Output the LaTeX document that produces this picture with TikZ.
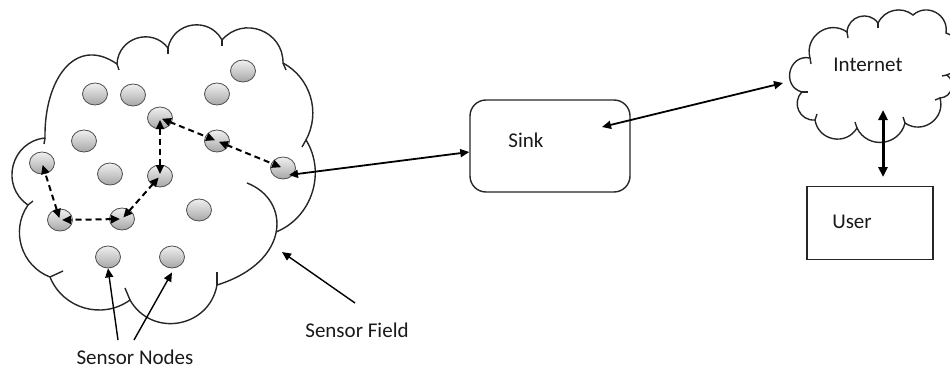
\documentclass[tikz,border=0pt]{standalone}
\usepackage{fontspec}
\setmainfont{Carlito}
\usetikzlibrary{arrows.meta,shapes.geometric}
\begin{document}
\begin{tikzpicture}[x=1pt,y=-1pt,
  outline/.style={line width=1.4pt,black!85},
  lobe/.style={bend left=70,looseness=1.27},
  semi/.style={bend left=88,looseness=1.6},
  flat/.style={bend left=52,looseness=1.05},
  sensor/.style={ellipse,minimum width=25pt,minimum height=22pt,inner sep=0pt,
    top color=gray!12,bottom color=gray!70,middle color=gray!40,
    draw=gray!60!black,line width=0.8pt},
  hop/.style={line width=2pt,dashed,dash pattern=on 6pt off 4pt,
    {Triangle[length=9pt,width=8pt]}-{Triangle[length=9pt,width=8pt]},
    shorten <=2pt,shorten >=2pt},
  link/.style={line width=1.8pt,{Triangle[length=9pt,width=8pt]}-{Triangle[length=9pt,width=8pt]}},
  point/.style={line width=1.4pt,-{Triangle[length=9pt,width=8pt]}},
  lbl/.style={font=\fontsize{21}{24}\selectfont,text=black!90,inner sep=0pt}]
\useasboundingbox (0,0) rectangle (950,369);
\clip (0,0) rectangle (950,369);

% ---- Sensor field cloud ----
\draw[outline] (28,205) to[lobe] (45,138) .. controls (44,80) and (75,35) .. (117,64)
  to[lobe] (168,48) to[lobe] (222,40) to[lobe] (283,63)
  to[bend left=45,looseness=1] (306,140)
  to[bend left=50,looseness=1.02] (276,232);
\draw[outline] (247,183) .. controls (291,200) and (291,262) .. (217,285);
\draw[outline] (217,285) to[lobe] (130,300) to[flat] (50,277) to[flat] (28,205);
% inner ticks
\draw[outline] (117,64) -- (119,70);
\draw[outline] (168,48) -- (168,54);
\draw[outline] (222,40) -- (222,46);
\draw[outline] (283,63) -- (286,70);
\draw[outline] (306,140) -- (302,147);
\draw[outline] (45,138) -- (44,144);
\draw[outline] (217,285) -- (217,272);
\draw[outline] (130,300) -- (125,288);
\draw[outline] (50,277) -- (63,271);
\draw[outline] (28,205) -- (33,201);

% ---- Internet cloud ----
\draw[outline] (802,92) to[semi] (810,58) to[lobe] (847,32) to[lobe] (878,23)
  to[flat] (913,15) to[lobe] (946,33) to[lobe] (947,75) to[lobe] (940,98)
  to[lobe] (905,123) to[lobe] (857,128) to[lobe] (815,120) to[lobe] (802,92);
\draw[outline] (810,58) -- (811,64);
\draw[outline] (847,32) -- (848,38);
\draw[outline] (878,23) -- (878,28);
\draw[outline] (947,75) -- (942,76);
\draw[outline] (940,98) -- (935,100);
\draw[outline] (905,123) -- (903,117);
\draw[outline] (857,128) -- (855,122);
\draw[outline] (815,120) -- (817,114);
\draw[outline] (802,92) -- (808,92);
\node[lbl] (internet) at (868,65) {Internet};

% ---- Sensors ----
\foreach \n/\x/\y in {1/95/94,2/133/95,3/243/71,4/217/94,5/160/118,6/84/141,
  7/217/141,8/42/163,9/110/174,10/160/176,11/283/168,12/60/220,13/122/219,
  14/199/210,15/108/257,16/172/257}
  \node[sensor] (n\n) at (\x,\y) {};

\draw[hop] (n5.center) -- (n7.center);
\draw[hop] (n7.center) -- (n11.center);
\draw[hop] (n5.center) -- (n10.center);
\draw[hop] (n10.center) -- (n13.center);
\draw[hop] (n13.center) -- (n12.center);
\draw[hop] (n12.center) -- (n8.center);

% ---- Sink and user ----
\node[draw,outline,rounded corners=16pt,minimum width=160pt,minimum height=92pt] (sink) at (550,146) {};
\node[lbl] (sinklbl) at (526,140) {Sink};
\node[draw,line width=1.3pt,black!85,minimum width=126pt,minimum height=73pt] (user) at (870,223) {};
\node[lbl] (userlbl) at (852,222) {User};

\coordinate (n11tip) at (289,175);
\coordinate (sinkin) at ([yshift=-6pt]sink.west);
\coordinate (sinkout) at (602,127);
\coordinate (netin) at (783,83);
\coordinate (nettop) at (883,110);
\coordinate (userin) at (883,177);
\draw[link] (n11tip) -- (sinkin);
\draw[link] (sinkout) -- (netin);
\draw[link,line width=3pt,{Triangle[length=10pt,width=9pt]}-{Triangle[length=10pt,width=9pt]}] (nettop) -- (userin);

% ---- labels ----
\node[lbl] (fieldlbl) at (357,330) {Sensor Field};
\node[lbl] (nodeslbl) at (135,357) {Sensor Nodes};
\coordinate (fieldfrom) at (355,303);
\coordinate (fieldto) at (282,252);
\draw[point] (fieldfrom) -- (fieldto);
\coordinate (na) at (118,340);
\coordinate (nb) at (134,340);
\draw[point] (na) -- (n15.south);
\draw[point] (nb) -- ([yshift=-4pt]n16.south);
\end{tikzpicture}
\end{document}
